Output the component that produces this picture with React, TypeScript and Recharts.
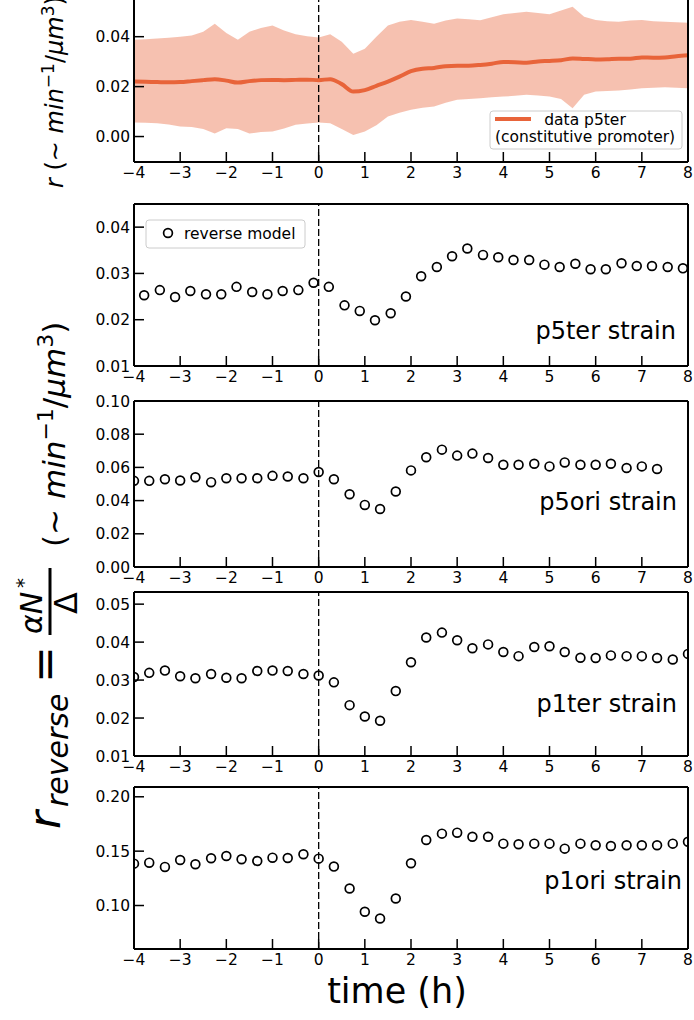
import { ComposedChart, Scatter, Line, Area, XAxis, YAxis, ReferenceLine } from 'recharts';

const FONT = '"DejaVu Sans", "Bitstream Vera Sans", sans-serif';
const W = 694;
const ORANGE = '#e8643a';

const xTicks = [-4, -3, -2, -1, 0, 1, 2, 3, 4, 5, 6, 7, 8];

// top panel: data p5ter (mean and spread band)
const bandT = [-4, -3.75, -3.5, -3.25, -3, -2.75, -2.5, -2.25, -2, -1.75, -1.5, -1.25, -1, -0.75, -0.5, -0.25, 0, 0.25, 0.5, 0.75, 1, 1.25, 1.5, 1.75, 2, 2.25, 2.5, 2.75, 3, 3.25, 3.5, 3.75, 4, 4.25, 4.5, 4.75, 5, 5.25, 5.5, 5.75, 6, 6.25, 6.5, 6.75, 7, 7.25, 7.5, 7.75, 8];
const meanP5ter = [0.0220, 0.0219, 0.0218, 0.0217, 0.0218, 0.0222, 0.0226, 0.0230, 0.0224, 0.0216, 0.0222, 0.0226, 0.0227, 0.0226, 0.0227, 0.0228, 0.0226, 0.0230, 0.0210, 0.0180, 0.0186, 0.0203, 0.0220, 0.0240, 0.0262, 0.0272, 0.0275, 0.0282, 0.0284, 0.0284, 0.0287, 0.0292, 0.0299, 0.0298, 0.0296, 0.0301, 0.0303, 0.0306, 0.0313, 0.0311, 0.0309, 0.0310, 0.0312, 0.0312, 0.0317, 0.0316, 0.0317, 0.0322, 0.0326];
const highP5ter = [0.0388, 0.0390, 0.0393, 0.0396, 0.0400, 0.0405, 0.0420, 0.0452, 0.0415, 0.0388, 0.0420, 0.0435, 0.0445, 0.0425, 0.0410, 0.0402, 0.0397, 0.0410, 0.0380, 0.0332, 0.0352, 0.0400, 0.0445, 0.0460, 0.0467, 0.0460, 0.0452, 0.0465, 0.0473, 0.0470, 0.0466, 0.0478, 0.0490, 0.0495, 0.0500, 0.0495, 0.0490, 0.0505, 0.0520, 0.0480, 0.0467, 0.0462, 0.0460, 0.0465, 0.0467, 0.0462, 0.0460, 0.0458, 0.0456];
const lowP5ter = [0.0056, 0.0055, 0.0053, 0.0048, 0.0040, 0.0038, 0.0030, 0.0012, 0.0033, 0.0030, 0.0012, 0.0018, 0.0020, 0.0032, 0.0047, 0.0052, 0.0056, 0.0053, 0.0030, 0.0006, 0.0020, 0.0045, 0.0080, 0.0095, 0.0107, 0.0115, 0.0120, 0.0135, 0.0147, 0.0150, 0.0153, 0.0157, 0.0160, 0.0163, 0.0167, 0.0164, 0.0160, 0.0150, 0.0113, 0.0167, 0.0180, 0.0182, 0.0184, 0.0188, 0.0193, 0.0195, 0.0197, 0.0195, 0.0193];

// reverse model points
const tP5ter = [-3.78, -3.44, -3.11, -2.78, -2.44, -2.11, -1.78, -1.44, -1.11, -0.78, -0.44, -0.11, 0.22, 0.56, 0.89, 1.22, 1.56, 1.89, 2.22, 2.56, 2.89, 3.22, 3.56, 3.89, 4.22, 4.56, 4.89, 5.22, 5.56, 5.89, 6.22, 6.56, 6.89, 7.22, 7.56, 7.89];
const revP5ter = [0.0253, 0.0264, 0.0249, 0.0262, 0.0255, 0.0255, 0.0271, 0.0260, 0.0255, 0.0262, 0.0264, 0.0280, 0.0271, 0.0231, 0.0219, 0.0199, 0.0214, 0.0250, 0.0294, 0.0314, 0.0337, 0.0354, 0.0340, 0.0335, 0.0329, 0.0329, 0.0319, 0.0314, 0.0321, 0.0309, 0.0309, 0.0322, 0.0316, 0.0316, 0.0314, 0.0311];

const tThird = [-4, -3.67, -3.33, -3, -2.67, -2.33, -2, -1.67, -1.33, -1, -0.67, -0.33, 0, 0.33, 0.67, 1, 1.33, 1.67, 2, 2.33, 2.67, 3, 3.33, 3.67, 4, 4.33, 4.67, 5, 5.33, 5.67, 6, 6.33, 6.67, 7, 7.33, 7.67, 8];
const revP5ori = [0.0519, 0.0519, 0.0529, 0.0521, 0.0541, 0.0511, 0.0535, 0.0535, 0.0535, 0.0549, 0.0545, 0.0535, 0.0572, 0.0529, 0.0438, 0.0374, 0.0349, 0.0455, 0.0582, 0.0661, 0.0707, 0.0671, 0.0683, 0.0657, 0.0616, 0.0616, 0.0622, 0.0606, 0.0630, 0.0616, 0.0616, 0.0622, 0.0596, 0.0606, 0.0590];
const revP1ter = [0.0308, 0.0319, 0.0325, 0.0310, 0.0305, 0.0316, 0.0306, 0.0305, 0.0324, 0.0325, 0.0324, 0.0316, 0.0312, 0.0294, 0.0234, 0.0204, 0.0193, 0.0271, 0.0347, 0.0412, 0.0425, 0.0405, 0.0384, 0.0394, 0.0374, 0.0363, 0.0387, 0.0389, 0.0374, 0.0359, 0.0358, 0.0365, 0.0363, 0.0363, 0.0358, 0.0354, 0.0369];
const revP1ori = [0.1385, 0.1394, 0.1355, 0.1419, 0.1379, 0.1434, 0.1456, 0.1425, 0.1410, 0.1440, 0.1437, 0.1471, 0.1431, 0.1358, 0.1156, 0.0942, 0.0881, 0.1064, 0.1388, 0.1602, 0.1661, 0.1670, 0.1633, 0.1633, 0.1569, 0.1563, 0.1569, 0.1569, 0.1523, 0.1569, 0.1554, 0.1547, 0.1554, 0.1554, 0.1554, 0.1569, 0.1587];

const bandData = bandT.map((t, i) => ({ t, mean: meanP5ter[i], lo: lowP5ter[i], hi: highP5ter[i] }));
const pts = (ts: number[], vs: number[]) => vs.map((v, i) => ({ t: ts[i], v }));

const fmtX = (v: number) => (v < 0 ? '\u2212' + Math.abs(v) : String(v));
const fmtY = (v: number) => v.toFixed(2);

const Ring = (p: any) => <circle cx={p.cx} cy={p.cy} r={4.4} fill="none" stroke="#000" strokeWidth={1.7} />;

function Panel({ top, bottom, domain, ticks, data, children }: any) {
  const h = bottom - top + 11 + 30;
  const tickFont = { fill: '#000', fontSize: 15.5 };
  return (
    <div style={{ position: 'absolute', left: 0, top: top - 11 }}>
      <ComposedChart width={W} height={h} data={data} margin={{ top: 10, right: 5, bottom: 0, left: 74 }}>
        <XAxis xAxisId="b" type="number" dataKey="t" domain={[-4, 8]} ticks={xTicks} allowDataOverflow interval={0}
          height={30} tickSize={-10} tickMargin={15} tickFormatter={fmtX} stroke="#000" strokeWidth={2}
          tick={tickFont} tickLine={{ strokeWidth: 1.5 }} />
        <XAxis xAxisId="t" orientation="top" type="number" dataKey="t" domain={[-4, 8]} ticks={xTicks} allowDataOverflow
          interval={0} height={1} tickSize={-10} tick={false} stroke="#000" strokeWidth={2} tickLine={{ strokeWidth: 1.5 }} />
        <YAxis yAxisId="l" type="number" domain={domain} ticks={ticks} allowDataOverflow interval={0} width={60}
          tickSize={-10} tickMargin={14} tickFormatter={fmtY} stroke="#000" strokeWidth={2}
          tick={tickFont} tickLine={{ strokeWidth: 1.5 }} />
        <YAxis yAxisId="r" orientation="right" type="number" domain={domain} ticks={ticks} allowDataOverflow interval={0}
          width={1} tickSize={-10} tick={false} stroke="#000" strokeWidth={2} tickLine={{ strokeWidth: 1.5 }} />
        <ReferenceLine xAxisId="b" yAxisId="l" x={0} stroke="#000" strokeWidth={1.3} strokeDasharray="7 3" />
        {children}
      </ComposedChart>
    </div>
  );
}

function Strain({ x, y, label }: any) {
  return <text x={x} y={y} textAnchor="end" fontSize={24}>{label}</text>;
}

export default function App() {
  return (
    <div style={{ position: 'absolute', left: 0, top: 0, width: W, height: 1020, overflow: 'hidden', background: '#fff', fontFamily: FONT }}>
      <Panel top={-2} bottom={162} domain={[-0.0102, 0.0555]} ticks={[0, 0.02, 0.04]} data={bandData}>
        <Area xAxisId="b" yAxisId="l" dataKey={(d: any) => [d.lo, d.hi]} type="linear" stroke="none" fill={ORANGE} fillOpacity={0.4} isAnimationActive={false} />
        <Line xAxisId="b" yAxisId="l" dataKey="mean" type="monotone" stroke={ORANGE} strokeWidth={4} dot={false} isAnimationActive={false} />
      </Panel>
      <Panel top={204} bottom={366} domain={[0.01, 0.045]} ticks={[0.01, 0.02, 0.03, 0.04]}>
        <Scatter xAxisId="b" yAxisId="l" data={pts(tP5ter, revP5ter)} dataKey="v" shape={Ring} isAnimationActive={false} />
      </Panel>
      <Panel top={401} bottom={567} domain={[0, 0.1]} ticks={[0, 0.02, 0.04, 0.06, 0.08, 0.1]}>
        <Scatter xAxisId="b" yAxisId="l" data={pts(tThird, revP5ori)} dataKey="v" shape={Ring} isAnimationActive={false} />
      </Panel>
      <Panel top={592} bottom={756} domain={[0.01, 0.0532]} ticks={[0.01, 0.02, 0.03, 0.04, 0.05]}>
        <Scatter xAxisId="b" yAxisId="l" data={pts(tThird, revP1ter)} dataKey="v" shape={Ring} isAnimationActive={false} />
      </Panel>
      <Panel top={787} bottom={949} domain={[0.06, 0.209]} ticks={[0.1, 0.15, 0.2]}>
        <Scatter xAxisId="b" yAxisId="l" data={pts(tThird, revP1ori)} dataKey="v" shape={Ring} isAnimationActive={false} />
      </Panel>

      <svg width={W} height={1020} style={{ position: 'absolute', left: 0, top: 0, pointerEvents: 'none' }} fontFamily={FONT} fill="#000">
        {/* top panel y label */}
        <text transform="rotate(-90)" x={-188} y={63} fontSize={24}>
          <tspan fontStyle="italic">r</tspan>
          <tspan>{' (\u223C '}</tspan>
          <tspan fontStyle="italic">min</tspan>
          <tspan dy={-9} fontSize={17}>{'\u22121'}</tspan>
          <tspan dy={9}>/</tspan>
          <tspan fontStyle="italic">{'\u00B5m'}</tspan>
          <tspan dy={-9} fontSize={17}>3</tspan>
          <tspan dy={9}>)</tspan>
        </text>

        {/* shared y label for the reverse model panels */}
        <text transform="rotate(-90)" x={-829} y={60} fontSize={44} fontStyle="italic">r</text>
        <text transform="rotate(-90)" x={-807} y={68} fontSize={30} fontStyle="italic">reverse</text>
        <text transform="rotate(-90)" x={-683} y={60} fontSize={44}>=</text>
        <text transform="rotate(-90)" x={-634} y={42} fontSize={30} fontStyle="italic">{'\u03B1N'}</text>
        <text transform="rotate(-90)" x={-588} y={30} fontSize={20}>*</text>
        <line x1={50} x2={50} y1={568} y2={635} stroke="#000" strokeWidth={3} />
        <text transform="rotate(-90)" x={-614} y={77} fontSize={32}>{'\u0394'}</text>
        <text transform="rotate(-90)" x={-547} y={65} fontSize={31}>
          <tspan>{'(\u223C '}</tspan>
          <tspan fontStyle="italic">min</tspan>
          <tspan dy={-12} fontSize={22}>{'\u22121'}</tspan>
          <tspan dy={12}>/</tspan>
          <tspan fontStyle="italic">{'\u00B5m'}</tspan>
          <tspan dy={-12} fontSize={22}>3</tspan>
          <tspan dy={12}>)</tspan>
        </text>

        {/* legends */}
        <rect x={490} y={111} width={192} height={38} rx={3} fill="#fff" fillOpacity={0.8} stroke="#ccc" />
        <line x1={495} x2={531} y1={119} y2={119} stroke={ORANGE} strokeWidth={4} />
        <text x={585} y={124.5} textAnchor="middle" fontSize={15.5}>data p5ter</text>
        <text x={585} y={141.5} textAnchor="middle" fontSize={15.5}>(constitutive promoter)</text>

        <rect x={146} y={220} width={159} height={28} rx={3} fill="#fff" fillOpacity={0.8} stroke="#ccc" />
        <circle cx={168} cy={233} r={4.4} fill="none" stroke="#000" strokeWidth={1.7} />
        <text x={184} y={238.5} fontSize={15.5}>reverse model</text>

        {/* strain labels */}
        <Strain x={676} y={339} label="p5ter strain" />
        <Strain x={677} y={510} label="p5ori strain" />
        <Strain x={677} y={712} label="p1ter strain" />
        <Strain x={682} y={889} label="p1ori strain" />

        <text x={397} y={1003} textAnchor="middle" fontSize={35}>time (h)</text>
      </svg>
    </div>
  );
}
